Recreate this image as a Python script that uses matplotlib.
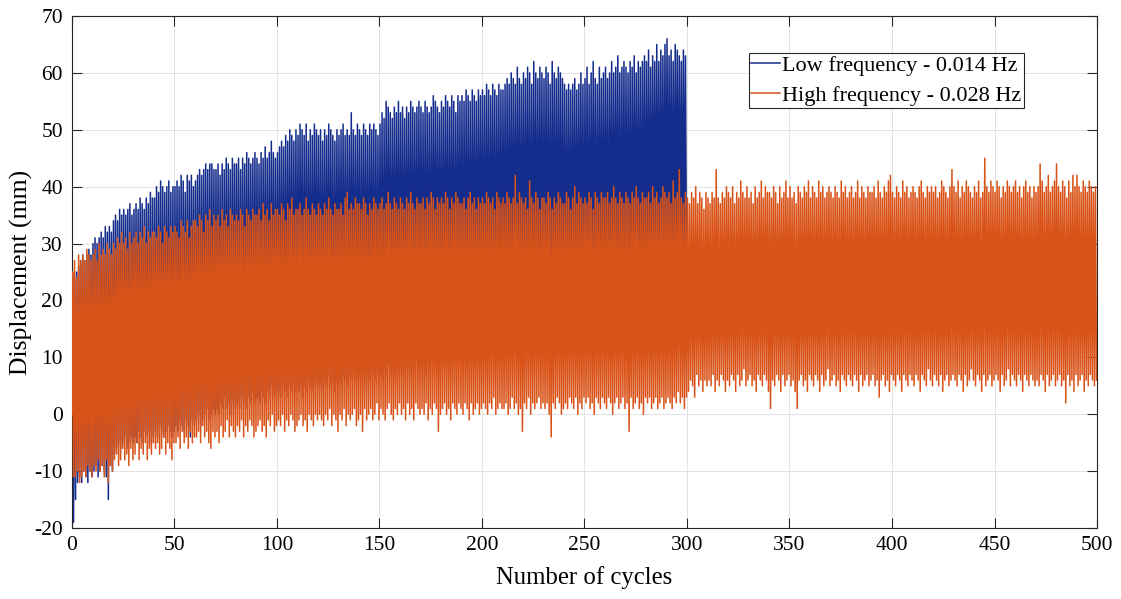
import numpy as np
import matplotlib.pyplot as plt

# per-cycle peaks / troughs (mm)
low_peak = [
    25, 24, 25, 26, 27, 28, 27, 28, 29, 28,
    30, 31, 30, 31, 32, 31, 33, 32, 33, 32,
    34, 35, 34, 36, 35, 36, 35, 36, 37, 35,
    36, 37, 36, 38, 37, 36, 38, 37, 39, 38,
    38, 40, 39, 41, 40, 39, 40, 41, 39, 40,
    40, 41, 40, 42, 41, 39, 42, 41, 42, 40,
    41, 42, 43, 42, 43, 44, 43, 44, 44, 43,
    43, 44, 42, 44, 43, 45, 44, 43, 45, 44,
    44, 45, 43, 45, 44, 46, 45, 44, 45, 46,
    45, 44, 46, 45, 47, 45, 46, 48, 46, 45,
    46, 47, 48, 47, 49, 48, 50, 49, 48, 50,
    49, 51, 50, 49, 51, 48, 50, 49, 51, 50,
    49, 50, 48, 50, 49, 51, 50, 49, 48, 50,
    49, 50, 51, 49, 50, 49, 53, 50, 49, 51,
    50, 49, 51, 50, 49, 51, 50, 51, 50, 49,
    51, 53, 52, 55, 54, 53, 52, 54, 53, 55,
    53, 54, 52, 54, 53, 55, 54, 53, 54, 55,
    54, 53, 55, 54, 53, 54, 56, 55, 54, 53,
    55, 54, 56, 55, 54, 56, 55, 53, 56, 55,
    56, 55, 57, 56, 55, 57, 56, 55, 57, 56,
    57, 56, 58, 57, 56, 58, 57, 56, 58, 57,
    57, 58, 59, 58, 60, 59, 58, 61, 59, 58,
    60, 59, 61, 60, 58, 62, 60, 59, 61, 60,
    59, 61, 60, 58, 62, 60, 59, 61, 60, 59,
    58, 57, 58, 57, 58, 59, 57, 58, 60, 58,
    59, 61, 58, 60, 62, 59, 58, 61, 59, 60,
    61, 59, 60, 62, 60, 61, 63, 60, 61, 62,
    61, 60, 62, 61, 63, 60, 62, 61, 62, 63,
    62, 64, 61, 63, 62, 65, 62, 64, 63, 65,
    66, 63, 64, 62, 65, 64, 63, 62, 64, 63,
]
low_trough = [
    -19, -15, -12, -11, -12, -10, -11, -12, -10, -11,
    -10, -9, -11, -10, -9, -10, -11, -15, -9, -10,
    -7, -6, -5, -6, -5, -4, -6, -5, -4, -5,
    -4, -5, -3, -4, -5, -3, -4, -3, -5, -4,
    -3, -4, -2, -3, -4, -3, -2, -3, -4, -3,
    -2, -3, -1, -2, -3, -1, -2, -4, -1, -2,
    -1, 0, -2, -1, 0, 1, -1, 0, 1, 0,
    1, 0, 2, 1, 3, 1, 2, 0, 2, 1,
    2, 1, 3, 2, 1, 3, 2, 4, 2, 3,
    3, 2, 4, 3, 2, 4, 3, 5, 3, 4,
    4, 3, 5, 4, 3, 5, 4, 6, 4, 5,
    4, 5, 3, 5, 4, 6, 5, 4, 6, 5,
    5, 4, 6, 5, 7, 5, 6, 4, 6, 5,
    6, 5, 7, 6, 5, 7, 6, 8, 6, 7,
    6, 7, 5, 7, 6, 8, 7, 6, 8, 7,
    7, 6, 8, 7, 9, 7, 8, 6, 8, 7,
    8, 7, 9, 8, 7, 9, 8, 10, 8, 9,
    8, 9, 7, 9, 8, 10, 9, 8, 10, 9,
    9, 8, 10, 9, 8, 10, 9, 11, 9, 10,
    9, 10, 8, 10, 9, 11, 10, 9, 11, 10,
    10, 9, 11, 10, 12, 10, 11, 9, 11, 10,
    11, 10, 12, 11, 10, 12, 11, 13, 11, 12,
    11, 12, 10, 12, 11, 13, 12, 11, 13, 12,
    12, 11, 13, 12, 14, 12, 13, 11, 13, 12,
    10, 12, 11, 13, 12, 14, 13, 12, 14, 13,
    13, 12, 14, 13, 15, 13, 14, 12, 14, 13,
    14, 13, 15, 14, 16, 14, 15, 13, 15, 14,
    15, 16, 14, 16, 17, 15, 17, 16, 18, 17,
    19, 18, 20, 21, 19, 22, 21, 23, 22, 24,
    23, 25, 24, 22, 26, 24, 25, 23, 26, 25,
]
high_peak = [
    25, 27, 24, 28, 27, 28, 27, 29, 28, 27,
    28, 29, 27, 30, 28, 29, 28, 30, 29, 28,
    30, 29, 31, 30, 32, 30, 31, 29, 32, 30,
    31, 32, 30, 32, 31, 33, 30, 32, 31, 32,
    32, 31, 33, 32, 30, 33, 32, 31, 33, 32,
    33, 32, 31, 34, 33, 32, 34, 31, 33, 34,
    34, 33, 35, 34, 32, 35, 34, 36, 33, 35,
    34, 35, 33, 36, 34, 35, 33, 36, 35, 34,
    35, 34, 36, 35, 33, 36, 35, 34, 36, 35,
    35, 36, 34, 37, 35, 36, 34, 37, 35, 36,
    36, 35, 37, 36, 34, 37, 36, 38, 35, 36,
    36, 37, 35, 36, 38, 36, 35, 37, 36, 35,
    37, 36, 35, 37, 36, 38, 36, 35, 37, 36,
    36, 37, 35, 38, 39, 36, 37, 36, 38, 37,
    37, 36, 38, 37, 35, 37, 36, 38, 37, 36,
    37, 38, 36, 37, 39, 37, 36, 38, 37, 36,
    38, 37, 36, 38, 37, 39, 37, 36, 38, 37,
    37, 38, 36, 38, 37, 39, 38, 36, 38, 37,
    38, 37, 39, 38, 36, 38, 37, 39, 38, 37,
    37, 38, 36, 38, 39, 37, 38, 36, 38, 37,
    38, 37, 39, 38, 37, 38, 36, 39, 38, 37,
    38, 37, 39, 38, 37, 38, 42, 37, 39, 38,
    37, 38, 36, 41, 38, 37, 39, 38, 36, 38,
    38, 37, 39, 38, 36, 38, 37, 39, 38, 37,
    37, 39, 38, 36, 38, 40, 37, 39, 38, 37,
    38, 37, 39, 38, 36, 39, 38, 37, 39, 38,
    38, 39, 37, 38, 40, 38, 37, 39, 38, 37,
    39, 38, 37, 39, 38, 40, 38, 37, 39, 38,
    38, 39, 37, 40, 38, 39, 37, 38, 40, 39,
    38, 39, 37, 41, 38, 39, 43, 38, 37, 39,
    38, 37, 39, 38, 40, 37, 39, 38, 36, 39,
    38, 37, 39, 38, 43, 38, 37, 39, 38, 40,
    39, 38, 40, 37, 39, 38, 41, 39, 38, 40,
    38, 39, 37, 40, 38, 39, 41, 38, 40, 39,
    39, 38, 40, 39, 37, 40, 38, 39, 41, 38,
    40, 38, 39, 37, 40, 39, 38, 40, 39, 41,
    38, 40, 39, 38, 41, 39, 40, 38, 39, 40,
    39, 38, 40, 39, 38, 41, 39, 40, 38, 39,
    40, 38, 39, 41, 38, 40, 39, 38, 40, 39,
    39, 40, 38, 41, 39, 38, 40, 39, 41, 42,
    39, 38, 40, 39, 38, 41, 39, 40, 38, 39,
    40, 39, 38, 40, 41, 39, 38, 40, 39, 40,
    39, 40, 38, 39, 41, 40, 39, 38, 40, 43,
    40, 39, 41, 38, 40, 39, 41, 40, 39, 38,
    40, 39, 41, 38, 39, 45, 40, 39, 41, 40,
    39, 41, 40, 38, 40, 39, 41, 40, 39, 40,
    41, 39, 40, 38, 40, 41, 39, 40, 38, 40,
    39, 40, 44, 41, 39, 40, 42, 39, 40, 41,
    44, 40, 39, 41, 40, 38, 41, 39, 42, 40,
    42, 40, 39, 41, 40, 39, 41, 40, 39, 40,
]
high_trough = [
    -11, -11, -10, -12, -11, -10, -11, -9, -10, -11,
    -9, -10, -8, -10, -9, -11, -8, -12, -9, -10,
    -8, -7, -9, -8, -6, -8, -7, -9, -6, -8,
    -7, -5, -8, -6, -7, -5, -8, -6, -7, -5,
    -6, -5, -7, -6, -4, -7, -5, -6, -8, -5,
    -5, -4, -6, -3, -5, -4, -6, -3, -5, -4,
    -4, -3, -5, -2, -4, -3, -5, -6, -3, -4,
    -3, -5, -2, -4, -3, -1, -4, -2, -3, -4,
    -2, -3, -1, -4, -2, -3, -1, -2, -4, -3,
    -2, -1, -3, -2, -4, -1, -2, 0, -3, -2,
    -1, -2, 0, -3, -1, -2, 0, -1, -3, -2,
    -1, 0, -2, -1, -3, 0, -1, -2, 0, -1,
    0, -1, -2, 0, -1, 1, -2, 0, -1, -3,
    0, -1, 1, -2, 0, -1, 0, 1, -2, -1,
    0, -3, 1, -1, 0, 1, -1, 0, 2, -1,
    1, 0, -1, 1, 2, 0, -1, 1, 0, 2,
    0, 1, -1, 2, 0, 1, -1, 2, 1, 0,
    1, 0, 2, -1, 1, 0, 2, 1, -3, 0,
    1, 2, 0, 1, -1, 2, 1, 0, 2, 1,
    0, 2, 1, -1, 2, 0, 1, 2, 0, 1,
    2, 1, 0, 2, 1, 3, 0, 1, 2, 1,
    1, 2, 0, 1, 3, 1, 2, 0, 1, -3,
    2, 1, 3, 0, 2, 1, 2, 3, 1, 2,
    1, 2, 0, -4, 2, 1, 3, 2, 0, 1,
    2, 1, 3, 2, 1, 3, 0, 2, 1, 3,
    2, 3, 1, 2, 0, 3, 2, 1, 3, 2,
    1, 3, 2, 0, 2, 3, 1, 2, 3, 1,
    2, -3, 3, 1, 2, 3, 1, 2, 0, 3,
    2, 3, 1, 2, 3, 1, 2, 3, 1, 2,
    3, 2, 1, 3, 2, 4, 2, 3, 1, 3,
    4, 6, 5, 3, 7, 5, 6, 4, 6, 5,
    6, 5, 7, 4, 6, 5, 7, 6, 4, 6,
    5, 7, 6, 4, 7, 5, 6, 8, 5, 6,
    7, 5, 6, 4, 7, 6, 5, 7, 6, 4,
    1, 6, 5, 7, 6, 4, 7, 5, 6, 7,
    5, 6, 4, 1, 6, 7, 5, 6, 4, 7,
    6, 5, 7, 6, 4, 7, 5, 6, 8, 5,
    6, 7, 5, 6, 4, 7, 6, 5, 7, 6,
    5, 7, 6, 4, 7, 5, 6, 7, 5, 6,
    7, 5, 6, 3, 6, 7, 5, 6, 4, 7,
    6, 5, 7, 6, 4, 7, 6, 5, 7, 6,
    5, 7, 6, 4, 7, 6, 5, 8, 6, 5,
    7, 6, 5, 7, 4, 6, 7, 5, 6, 7,
    6, 5, 7, 6, 4, 7, 5, 6, 8, 6,
    5, 7, 6, 4, 7, 5, 6, 7, 5, 6,
    7, 6, 4, 7, 5, 6, 8, 5, 7, 6,
    5, 7, 6, 4, 7, 6, 5, 7, 6, 5,
    6, 5, 7, 6, 4, 7, 5, 6, 7, 5,
    6, 7, 5, 6, 2, 7, 5, 6, 4, 7,
    5, 6, 7, 4, 6, 5, 7, 6, 5, 6,
]


def zigzag(peaks, troughs):
    # start at rest, then one peak and one trough per cycle
    n = len(peaks)
    x = np.empty(2 * n + 1)
    y = np.empty(2 * n + 1)
    x[0], y[0] = 0, 0
    x[1::2] = np.arange(n) + 0.25
    x[2::2] = np.arange(n) + 0.75
    y[1::2] = peaks
    y[2::2] = troughs
    return x, y


plt.rcParams['font.family'] = ['Liberation Serif', 'DejaVu Serif']
plt.rcParams['axes.unicode_minus'] = False

fig = plt.figure(figsize=(11.21, 5.99), dpi=100)
ax = fig.add_axes([0.0642, 0.1185, 0.9144, 0.8548])

xl, yl = zigzag(low_peak, low_trough)
xh, yh = zigzag(high_peak, high_trough)
ax.plot(xl, yl, color='#142c8c', lw=1.1, label='Low frequency - 0.014 Hz', zorder=2)
ax.plot(xh, yh, color='#d95319', lw=1.1, label='High frequency - 0.028 Hz', zorder=3)

ax.set_xlim(0, 500)
ax.set_ylim(-20, 70)
ax.set_xticks(np.arange(0, 501, 50))
ax.set_yticks(np.arange(-20, 71, 10))
ax.grid(True, color='#e3e3e3', lw=0.7)
ax.set_axisbelow(True)
ax.tick_params(direction='in', length=7, width=0.8, top=True, right=True,
               labelsize=15.5, colors='#262626', labelcolor='black')
ax.tick_params(axis='x', pad=6)
ax.tick_params(axis='y', pad=6.5)
for s in ax.spines.values():
    s.set_color('#262626')
    s.set_linewidth(0.8)

ax.set_xlabel('Number of cycles', fontsize=17.8, labelpad=8)
ax.set_ylabel('Displacement (mm)', fontsize=18.5, labelpad=1)

leg = ax.legend(loc='upper right', bbox_to_anchor=(0.9288, 0.928), borderaxespad=0,
                fontsize=16, handlelength=1.3, handletextpad=0.08, borderpad=0.12,
                labelspacing=0.4, fancybox=False, framealpha=1)
leg.get_frame().set_edgecolor('#262626')
leg.get_frame().set_linewidth(0.8)

fig.savefig('out.png', dpi=100)
